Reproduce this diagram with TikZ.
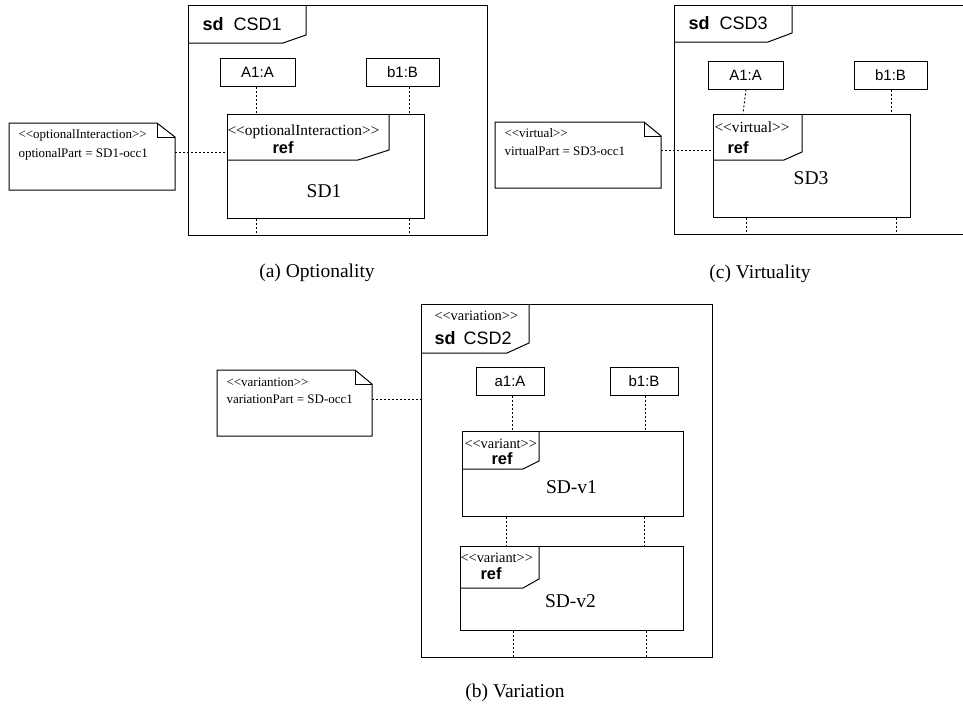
\documentclass[tikz,border=0pt]{standalone}
\usepackage{fontspec}
\setmainfont{Liberation Serif}[Ligatures=TeXOff]
\newfontfamily\helv{Liberation Sans}[Ligatures=TeXOff]
\usetikzlibrary{calc, positioning}

\begin{document}
\begin{tikzpicture}[x=0.5pt, y=-0.5pt, line width=0.5pt,
	head/.style={draw, minimum height=14pt, inner sep=0pt, font=\helv\fontsize{7.5}{9}\selectfont},
	fragment/.style={draw, inner sep=0pt},
	life/.style={line width=0.45pt, dash pattern=on 1pt off 1pt},
	stereo/.style={anchor=base west, inner sep=0pt, font=\fontsize{7.2}{8}\selectfont},
	notetext/.style={anchor=base west, inner sep=0pt, font=\fontsize{6.5}{8}\selectfont},
	reftag/.style={anchor=base west, inner sep=0pt, font=\helv\bfseries\fontsize{8.2}{10}\selectfont},
	sdtag/.style={anchor=base west, inner sep=0pt, font=\helv\fontsize{9}{11}\selectfont},
	big/.style={anchor=base, inner sep=0pt, font=\fontsize{9.75}{12}\selectfont}]
	\useasboundingbox (0,0) rectangle (963,703);
	\clip (0,0) rectangle (963,703);

	% (a) optionality
	\draw (188,5) rectangle (487,235);
	\draw (188,43) -- (283,43) -- (306,35) -- (306,5);
	\coordinate (f1) at (188,235);
	\node[sdtag] (sd1) at (202,30) {\textbf{sd}\hspace{5pt}CSD1};
	\node[head, minimum width=37.5pt] (a1) at (257.5,72) {A1:A};
	\node[head, minimum width=36.5pt] (b1) at (402.5,72) {b1:B};
	\node[fragment, minimum width=98.5pt, minimum height=52pt] (ref1) at (325.5,166) {};
	\draw (227,160) -- (358,160) -- (389,150) -- (389,114);
	\node[stereo, font=\fontsize{7.7}{9}\selectfont] (st1) at (227,135) {<<optionalInteraction>>};
	\node[reftag] (rt1) at (272,153) {ref};
	\node[big] (sd1name) at (324,197) {SD1};
	\coordinate (la1) at ($(a1.south)+(-1.5,0)$);
	\coordinate (lb1) at ($(b1.south)+(6.5,0)$);
	\foreach \l in {la1, lb1} {
			\draw[life] (\l) -- (\l |- ref1.north);
			\draw[life] (\l |- ref1.south) -- (\l |- f1);
		}
	\draw (9,123) -- (157,123) -- (175,137) -- (175,190) -- (9,190) -- cycle;
	\draw (157,123) -- (157,137) -- (175,137);
	\node[notetext] (nt1) at (18,138) {<<optionalInteraction>>};
	\node[notetext] (np1) at (18,157) {optionalPart = SD1-occ1};
	\coordinate (note1) at (175,152);
	\draw[life] (note1) -- (note1 -| ref1.west);
	\node[big] (cap1) at (317,277) {(a) Optionality};

	% (c) virtuality
	\draw (674,5) rectangle (975,234);
	\draw (674,42) -- (768,42) -- (792,33) -- (792,5);
	\coordinate (f3) at (674,234);
	\node[sdtag] (sd3) at (688,29) {\textbf{sd}\hspace{5pt}CSD3};
	\node[head, minimum width=37.5pt] (a3) at (745.5,75) {A1:A};
	\node[head, minimum width=36.5pt] (b3) at (890.5,75) {b1:B};
	\node[fragment, minimum width=98.5pt, minimum height=51.5pt] (ref3) at (811.5,165.5) {};
	\draw (713,160) -- (784,160) -- (802,152) -- (802,114);
	\node[stereo, font=\fontsize{7.7}{9}\selectfont] (st3) at (714,132) {<<virtual>>};
	\node[reftag] (rt3) at (727,153) {ref};
	\node[big] (sd3name) at (811,184) {SD3};
	\coordinate (la3) at ($(a3.south)+(0.5,0)$);
	\coordinate (lb3) at ($(b3.south)+(0.5,0)$);
	\coordinate (lc3) at ($(b3.south)+(5.5,0)$);
	\draw[life] (la3) -- ($(la3 |- ref3.north)+(-3,0)$);
	\draw[life] (la3 |- ref3.south) -- (la3 |- f3);
	\draw[life] (lb3) -- (lb3 |- ref3.north);
	\draw[life] (lc3 |- ref3.south) -- (lc3 |- f3);
	\draw (495,122) -- (644,122) -- (661,136) -- (661,188) -- (495,188) -- cycle;
	\draw (644,122) -- (644,136) -- (661,136);
	\node[notetext] (nt3) at (504,137) {<<virtual>>};
	\node[notetext] (np3) at (504,155) {virtualPart = SD3-occ1};
	\coordinate (note3) at (661,150);
	\draw[life] (note3) -- (note3 -| ref3.west);
	\node[big] (cap3) at (760,278) {(c) Virtuality};

	% (b) variation
	\draw (421,304) rectangle (712,657);
	\draw (421,353) -- (507,353) -- (529,343) -- (529,304);
	\coordinate (f2) at (421,657);
	\node[stereo] (st2) at (434,320) {<<variation>>};
	\node[sdtag] (sd2) at (434,344) {\textbf{sd}\hspace{4pt}CSD2};
	\node[head, minimum width=34pt] (a2) at (510,381) {a1:A};
	\node[head, minimum width=34pt] (b2) at (644,381) {b1:B};
	\node[fragment, minimum width=110.5pt, minimum height=42.5pt] (v1) at (572.5,473.5) {};
	\draw (462,469) -- (523,469) -- (539,461) -- (539,431);
	\node[stereo] (sv1) at (464,448) {<<variant>>};
	\node[reftag] (rv1) at (491,464) {ref};
	\node[big] (v1name) at (571.5,493) {SD-v1};
	\node[fragment, minimum width=111.5pt, minimum height=42pt] (v2) at (571.5,588) {};
	\draw (460,588) -- (523,588) -- (539,579) -- (539,546);
	\node[stereo] (sv2) at (460,562) {<<variant>>};
	\node[reftag] (rv2) at (480,579) {ref};
	\node[big] (v2name) at (570.5,607) {SD-v2};
	\coordinate (la2) at ($(a2.south)+(2,0)$);
	\coordinate (lm2) at ($(a2.south)+(-4,0)$);
	\coordinate (lz2) at ($(a2.south)+(3,0)$);
	\coordinate (lb2) at ($(b2.south)+(1,0)$);
	\coordinate (ln2) at ($(b2.south)+(2,0)$);
	\draw[life] (la2) -- (la2 |- v1.north);
	\draw[life] (lb2) -- (lb2 |- v1.north);
	\draw[life] (lm2 |- v1.south) -- (lm2 |- v2.north);
	\draw[life] (b2 |- v1.south) -- (b2 |- v2.north);
	\draw[life] (lz2 |- v2.south) -- (lz2 |- f2);
	\draw[life] (ln2 |- v2.south) -- (ln2 |- f2);
	\draw (217,370) -- (355,370) -- (372,384) -- (372,436) -- (217,436) -- cycle;
	\draw (355,370) -- (355,384) -- (372,384);
	\node[notetext] (nt2) at (226,386) {<<variantion>>};
	\node[notetext] (np2) at (226,403) {variationPart = SD-occ1};
	\coordinate (note2) at (372,399);
	\draw[life] (note2) -- (note2 -| f2);
	\node[big] (cap2) at (515,697) {(b) Variation};
\end{tikzpicture}
\end{document}
